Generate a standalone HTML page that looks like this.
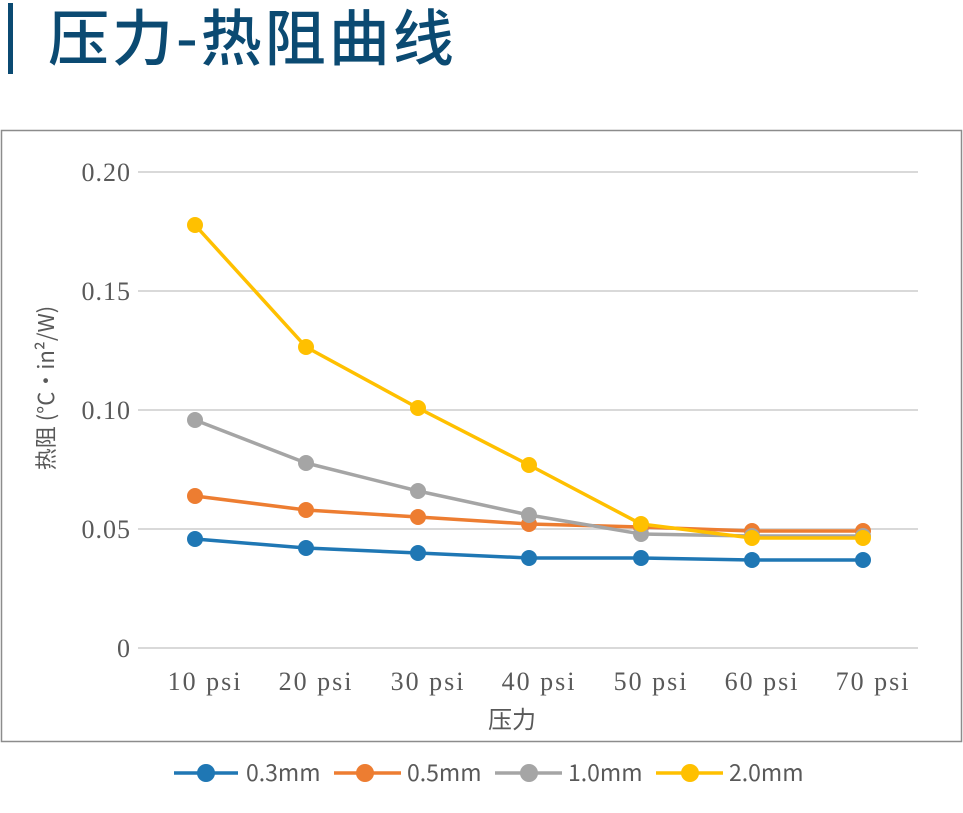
<!DOCTYPE html>
<html><head><meta charset="utf-8"><style>
body{margin:0;background:#fff;width:963px;height:808px;overflow:hidden}
</style></head><body>
<svg width="963" height="808" xmlns="http://www.w3.org/2000/svg">
<rect x="8" y="3" width="5" height="71" fill="#0b4a72"/>
<text x="48" y="60" font-family="'Noto Sans CJK SC',sans-serif" font-size="61" font-weight="500" letter-spacing="3" fill="#0b4a72">压力-热阻曲线</text>
<rect x="1.5" y="130.5" width="960" height="611" fill="none" stroke="#8c8c8c" stroke-width="1.5"/>
<g stroke="#d9d9d9" stroke-width="2">
<line x1="138" y1="172" x2="918" y2="172"/><line x1="138" y1="291" x2="918" y2="291"/>
<line x1="138" y1="410" x2="918" y2="410"/><line x1="138" y1="529" x2="918" y2="529"/>
<line x1="138" y1="648" x2="918" y2="648"/>
</g>
<g font-family="'Liberation Serif',serif" font-size="26" fill="#595959" text-anchor="end" letter-spacing="1">
<text x="131" y="181">0.20</text><text x="131" y="300">0.15</text><text x="131" y="419">0.10</text><text x="131" y="538">0.05</text><text x="131" y="657">0</text>
</g>
<g font-family="'Liberation Serif',serif" font-size="26" fill="#595959" text-anchor="middle" letter-spacing="2">
<text x="205" y="690">10 psi</text><text x="316" y="690">20 psi</text><text x="428" y="690">30 psi</text><text x="539" y="690">40 psi</text><text x="651" y="690">50 psi</text><text x="762" y="690">60 psi</text><text x="873" y="690">70 psi</text>
</g>
<text transform="translate(54,388) rotate(-90)" text-anchor="middle" font-family="'Noto Sans CJK SC',sans-serif" font-size="22" fill="#595959">热阻 (°C·in²/W)</text>
<text x="512" y="728" text-anchor="middle" font-family="'Noto Sans CJK SC',sans-serif" font-size="24" fill="#595959">压力</text>
<g fill="none" stroke-width="3.5" stroke-linejoin="round">
<polyline stroke="#1f77b4" points="195,539 306,548 418,553 529,558 641,558 752,560 863,560"/>
<polyline stroke="#ed7d31" points="195,496 306,510 418,517 529,524 641,527 752,531 863,531"/>
<polyline stroke="#a5a5a5" points="195,420 306,463 418,491 529,515 641,534 752,536 863,536"/>
<polyline stroke="#ffc000" points="195,225 306,347 418,408 529,465 641,524 752,538 863,538"/>
</g>
<g fill="#1f77b4"><circle cx="195" cy="539" r="8"/><circle cx="306" cy="548" r="8"/><circle cx="418" cy="553" r="8"/><circle cx="529" cy="558" r="8"/><circle cx="641" cy="558" r="8"/><circle cx="752" cy="560" r="8"/><circle cx="863" cy="560" r="8"/></g>
<g fill="#ed7d31"><circle cx="195" cy="496" r="8"/><circle cx="306" cy="510" r="8"/><circle cx="418" cy="517" r="8"/><circle cx="529" cy="524" r="8"/><circle cx="641" cy="527" r="8"/><circle cx="752" cy="531" r="8"/><circle cx="863" cy="531" r="8"/></g>
<g fill="#a5a5a5"><circle cx="195" cy="420" r="8"/><circle cx="306" cy="463" r="8"/><circle cx="418" cy="491" r="8"/><circle cx="529" cy="515" r="8"/><circle cx="641" cy="534" r="8"/><circle cx="752" cy="536" r="8"/><circle cx="863" cy="536" r="8"/></g>
<g fill="#ffc000"><circle cx="195" cy="225" r="8"/><circle cx="306" cy="347" r="8"/><circle cx="418" cy="408" r="8"/><circle cx="529" cy="465" r="8"/><circle cx="641" cy="524" r="8"/><circle cx="752" cy="538" r="8"/><circle cx="863" cy="538" r="8"/></g>
<g stroke-width="3.5">
<line x1="174" y1="773" x2="238" y2="773" stroke="#1f77b4"/><circle cx="206" cy="773" r="9" fill="#1f77b4"/>
<line x1="334" y1="773" x2="401" y2="773" stroke="#ed7d31"/><circle cx="365" cy="773" r="9" fill="#ed7d31"/>
<line x1="495" y1="773" x2="562" y2="773" stroke="#a5a5a5"/><circle cx="529" cy="773" r="9" fill="#a5a5a5"/>
<line x1="656" y1="773" x2="723" y2="773" stroke="#ffc000"/><circle cx="690" cy="773" r="9" fill="#ffc000"/>
</g>
<g font-family="'Noto Sans CJK SC',sans-serif" font-size="23" fill="#595959">
<text x="246" y="781">0.3mm</text><text x="407" y="781">0.5mm</text><text x="568" y="781">1.0mm</text><text x="729" y="781">2.0mm</text>
</g>
</svg>
</body></html>
